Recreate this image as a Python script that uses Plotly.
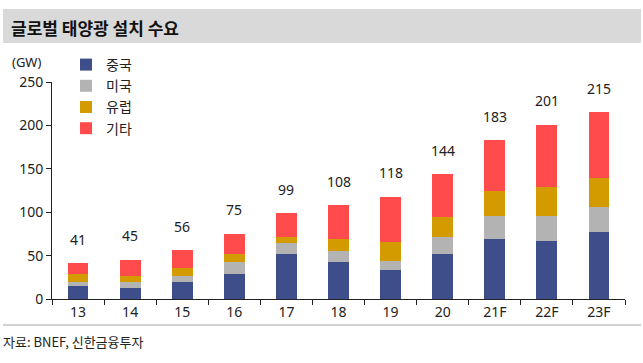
import plotly.graph_objects as go

categories = ["13", "14", "15", "16", "17", "18", "19", "20", "21F", "22F", "23F"]
china = [15, 13, 20, 29, 52, 43, 33, 52, 69, 67, 77]
usa = [5, 7, 7, 14, 12, 12, 11, 19, 27, 29, 29]
europe = [9, 7, 9, 9, 8, 14, 22, 24, 29, 33, 33]
others = [12, 18, 20, 23, 27, 39, 52, 49, 58, 72, 76]
totals = [41, 45, 56, 75, 99, 108, 118, 144, 183, 201, 215]

series_names = ["중국", "미국", "유럽", "기타"]
series_colors = ["#3d4e8a", "#b3b3b3", "#d39b00", "#ff4b4b"]

W, H = 643, 363
# target plot-area edges in screenshot pixels
X0, X1, Y0, Y1 = 52, 625, 82, 299
L, R, T, B = X0, W - X1, Y0, H - Y1
pw, ph = W - L - R, H - T - B

def px(x):
    return (x - L) / pw

def py(y):
    return (H - B - y) / ph

fig = go.Figure()
for name, vals, col in zip(series_names, [china, usa, europe, others], series_colors):
    fig.add_trace(go.Bar(x=categories, y=vals, name=name, marker_color=col,
                         marker_line_width=0))

annotations = []
for i, t in enumerate(totals):
    annotations.append(dict(x=i, y=t, text=str(t), showarrow=False, yshift=24,
                            font=dict(size=14, color="#222222", family="Noto Sans")))

annotations.append(dict(xref="paper", yref="paper", x=px(9), y=py(27), xanchor="left",
                        yanchor="middle", text="<b>글로벌 태양광 설치 수요</b>", showarrow=False,
                        font=dict(size=17, color="#111111", family="Noto Sans CJK KR")))
annotations.append(dict(xref="paper", yref="paper", x=px(10), y=py(62), xanchor="left",
                        yanchor="middle", text="(GW)", showarrow=False,
                        font=dict(size=13, color="#222222", family="Noto Sans")))
annotations.append(dict(xref="paper", yref="paper", x=px(1), y=py(341), xanchor="left",
                        yanchor="middle", text="자료: BNEF, 신한금융투자", showarrow=False,
                        font=dict(size=13, color="#222222", family="Liberation Sans Narrow, Noto Sans CJK KR")))

shapes = [
    dict(type="rect", xref="paper", yref="paper", x0=px(3), x1=px(641), y0=py(9), y1=py(43),
         fillcolor="#d9d9d9", line_width=0, layer="below"),
    dict(type="line", xref="paper", yref="paper", x0=px(3), x1=px(641), y0=py(325), y1=py(325),
         line=dict(color="#a6a6a6", width=1)),
]

fig.update_layout(
    width=W, height=H,
    margin=dict(l=L, r=R, t=T, b=B),
    barmode="stack", bargap=0.6,
    plot_bgcolor="white", paper_bgcolor="white",
    font=dict(family="Noto Sans, Noto Sans CJK KR", size=14, color="#222222"),
    showlegend=True,
    legend=dict(x=px(66), y=py(49), xanchor="left", yanchor="top", traceorder="normal",
                bgcolor="rgba(0,0,0,0)", font=dict(size=14, family="Noto Sans CJK KR"),
                itemwidth=30, tracegroupgap=0),
    annotations=annotations,
    shapes=shapes,
    xaxis=dict(type="category", showline=True, linecolor="#222222", linewidth=1,
               ticks="outside", tickson="boundaries", ticklen=5, tickcolor="#222222",
               tickangle=0,
               tickfont=dict(size=14, family="Liberation Sans Narrow, Noto Sans"), showgrid=False),
    yaxis=dict(range=[0, 250], tickvals=[0, 50, 100, 150, 200, 250], showline=True,
               linecolor="#222222", linewidth=1, ticks="outside", ticklen=5,
               tickcolor="#222222", showgrid=False, zeroline=False,
               tickfont=dict(size=14, family="Noto Sans")),
)

fig.write_html("out.html", config={"displayModeBar": False},
               post_script="document.body.style.margin='0px';")
